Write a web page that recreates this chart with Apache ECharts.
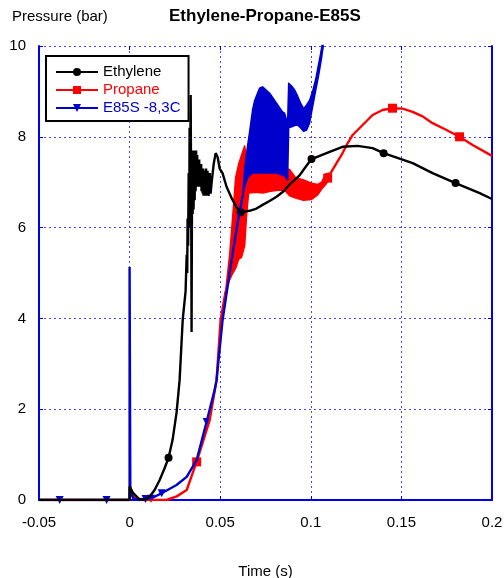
<!DOCTYPE html>
<html>
<head>
<meta charset="utf-8">
<script src="https://cdn.jsdelivr.net/npm/echarts@6/dist/echarts.min.js"></script>
<style>
html,body{margin:0;padding:0;background:#fff}
#chart{width:504px;height:578px}
</style>
</head>
<body>
<div id="chart"></div>
<script>
// Ethylene pressure trace (time in s, pressure in bar)
const ethTime = [-0.05,0,0,0.002,0.005,0.0083,0.011,0.0138,0.0166,0.0193,0.0215,0.0237,0.0259,0.0276,0.0293,0.0309,
  0.0315,0.0318,0.0320,0.0323,0.0326,0.0329,0.0331,0.0334,0.0337,0.0340,0.0342,0.0345,0.0348,0.0351,0.0353,0.0356,
  0.0359,0.0362,0.0364,0.0367,0.0370,0.0373,0.0375,0.0378,0.0381,0.0384,0.0386,0.0389,0.0392,0.0395,0.0397,0.0400,
  0.0403,0.0406,0.0408,0.0411,0.0414,0.0417,0.0419,0.0422,0.0425,0.0430,0.0436,0.0442,0.0447,0.0453,0.0464,0.0475,
  0.0486,0.0497,0.0513,0.0535,0.0563,0.0590,0.0613,0.0662,0.0700,0.0734,0.0770,0.0811,0.0850,0.0883,0.0938,0.0970,
  0.1004,0.1104,0.1175,0.1258,0.1341,0.1402,0.1562,0.1672,0.1799,0.1932,0.2];
const ethPres = [0,0,0.3,0.15,0.03,0,0.07,0.22,0.44,0.7,0.93,1.32,1.92,2.64,3.96,4.6,
  5.4,5.0,6.2,5.6,7.2,6.0,8.2,6.6,8.92,6.4,3.7,7.7,6.3,7.6,6.4,7.7,
  6.6,7.6,6.8,7.7,6.9,7.6,7.0,7.5,6.9,7.5,7.0,7.4,6.9,7.4,6.8,7.3,
  6.75,7.3,6.7,7.25,6.7,7.2,6.75,7.3,6.7,7.25,6.7,7.2,6.75,7.0,7.4,7.64,
  7.55,7.3,7.2,6.9,6.65,6.45,6.34,6.37,6.42,6.5,6.58,6.68,6.8,6.95,7.15,7.33,
  7.51,7.67,7.78,7.8,7.75,7.64,7.42,7.2,6.98,6.76,6.63];
const ethMarkT = [0.0215,0.0613,0.1004,0.1402,0.1799];
const ethMarkP = [0.93,6.34,7.51,7.64,6.98];

// Propane: rise, oscillating band, decay
const proRiseT = [-0.05,0,0.0003,0.002,0.004,0.0204,0.026,0.0315,0.037,0.0442,0.048,0.0502,0.0530];
const proRiseP = [0,0,0.22,0.1,0,0,0.08,0.22,0.84,1.76,2.64,3.96,4.6];
const proBandT = [0.0530,0.0552,0.0570,0.0585,0.0602,0.0618,0.0635,0.0646,0.0657,0.0700,0.0734,0.0778,0.0828,0.0861,0.0883,0.0916,0.0960,0.1004,0.1038,0.1060,0.1082,0.1099];
const proBandLo = [4.6,4.85,5.0,5.1,5.3,5.35,5.6,6.3,6.76,6.78,6.76,6.8,6.83,6.8,6.7,6.65,6.6,6.62,6.72,6.85,6.95,7.05];
const proBandHi = [4.6,5.4,6.3,7.1,7.4,7.6,7.8,7.5,7.25,7.25,7.22,7.2,7.25,7.3,7.28,7.1,7.05,6.98,6.95,7.0,7.18,7.2];
const proTailT = [0.1093,0.1142,0.1170,0.1198,0.1231,0.1286,0.1341,0.1396,0.1451,0.1507,0.1562,0.1617,0.1672,0.1749,0.1821,0.1893,0.2];
const proTailP = [7.09,7.42,7.6,7.82,8.04,8.26,8.48,8.59,8.63,8.62,8.55,8.45,8.3,8.15,8.0,7.82,7.58];
const proMarkT = [0.037,0.1093,0.1451,0.1821];
const proMarkP = [0.84,7.09,8.63,8.0];

// E85S -8,3C
const e85RiseT = [-0.05,0,0,0.0004,0.002,0.005,0.0105,0.0127,0.0177,0.0259,0.0315,0.037,0.0425,0.0469,0.048,0.0513,0.0563,0.0596,0.0624];
const e85RiseP = [0,0,5.13,0.2,0.03,0,0.03,0.05,0.15,0.33,0.51,0.88,1.72,2.42,2.64,3.96,5.29,6.1,6.7];
const e85BandT = [0.0624,0.0635,0.0651,0.0662,0.0679,0.0690,0.0717,0.0734,0.0773,0.0811,0.0844,0.0855,0.0872,0.0878,0.0894,0.0911,0.0927,0.0943,0.0960,0.0977,0.0993,0.1010,0.1026,0.1043,0.1060,0.1068];
const e85BandLo = [6.7,6.9,7.1,7.15,7.2,7.2,7.2,7.2,7.2,7.2,7.16,7.14,7.05,8.2,8.22,8.25,8.26,8.2,8.12,8.15,8.3,8.66,9.0,9.35,9.75,10];
const e85BandHi = [6.7,7.3,7.8,8.1,8.6,8.8,9.07,9.1,8.96,8.74,8.55,8.52,8.3,9.18,9.12,9.03,8.9,8.75,8.62,8.7,8.8,9.0,9.25,9.6,9.95,10];
const e85TailT = [0.1060,0.1075];
const e85TailP = [9.85,10.4];
const e85MarkT = [-0.0386,-0.0127,0.0088,0.0118,0.0177,0.0425];
const e85MarkP = [0,0,0.02,0.03,0.15,1.72];

// Axis ticks
const timeTicks = [-0.05,0,0.05,0.1,0.15,0.2];
const presTicks = [0,2,4,6,8,10];

const FONT = 'Liberation Sans, Arial, sans-serif';
const BLACK = '#000000', RED = '#ff0000', BLUE = '#0000cc', FRAME = '#0000ee', GRID = '#4646ff';

const zip = (a, b) => a.map((v, i) => [v, b[i]]);
const withGap = (a, b) => a.concat([['-', '-']], b);

function bandSeries(T, lo, hi, color) {
  const data = T.map((t, i) => [t, lo[i], hi[i]]);
  return {
    type: 'custom', coordinateSystem: 'cartesian2d', silent: true,
    encode: { x: 0, y: [1, 2] },
    data,
    renderItem(params, api) {
      if (params.dataIndex !== 0) return null;
      const pts = [];
      for (let i = 0; i < data.length; i++) pts.push(api.coord([data[i][0], data[i][2]]));
      for (let i = data.length - 1; i >= 0; i--) pts.push(api.coord([data[i][0], data[i][1]]));
      return { type: 'polygon', shape: { points: pts },
        style: { fill: color, stroke: color, lineWidth: 1.5, lineJoin: 'round' } };
    }
  };
}

function lineSeries(name, data, color, symbol, rotate) {
  return {
    type: 'line', name, data, showSymbol: false, symbol, symbolSize: 8, symbolRotate: rotate || 0,
    connectNulls: false,
    lineStyle: { color, width: 2.4, join: 'bevel' }, itemStyle: { color }
  };
}

function markSeries(name, data, color, symbol, size, rotate) {
  return { type: 'scatter', name, data, symbol, symbolSize: size, symbolRotate: rotate || 0,
    itemStyle: { color, opacity: 1 }, silent: true };
}

const fmtTime = v => String(+v.toFixed(2));

const chart = echarts.init(document.getElementById('chart'), null, { renderer: 'canvas' });
chart.setOption({
  animation: false,
  backgroundColor: '#ffffff',
  title: [
    { text: 'Ethylene-Propane-E85S', left: 169, top: 8, padding: 0,
      textStyle: { fontFamily: FONT, fontSize: 17, fontWeight: 'bold', color: BLACK } },
    { text: 'Pressure (bar)', left: 12, top: 9, padding: 0,
      textStyle: { fontFamily: FONT, fontSize: 15, fontWeight: 'normal', color: BLACK } }
  ],
  legend: {
    orient: 'vertical', left: 46, top: 56, padding: [8, 8, 5, 9],
    itemWidth: 42, itemHeight: 10, itemGap: 2,
    backgroundColor: '#ffffff', borderColor: BLACK, borderWidth: 2, borderRadius: 0,
    textStyle: { fontFamily: FONT, fontSize: 15, lineHeight: 16 },
    data: [
      { name: 'Ethylene', textStyle: { color: BLACK } },
      { name: 'Propane', textStyle: { color: RED } },
      { name: 'E85S -8,3C', textStyle: { color: BLUE } }
    ]
  },
  grid: { left: 39, right: 12, top: 46, bottom: 78, show: false, containLabel: false, outerBoundsMode: 'none' },
  xAxis: [
    { type: 'value', min: timeTicks[0], max: timeTicks[timeTicks.length - 1], interval: 0.05, position: 'bottom',
      axisLine: { show: true, onZero: false, lineStyle: { color: FRAME, width: 2 } },
      axisTick: { show: true, inside: true, length: 4, lineStyle: { color: FRAME } },
      axisLabel: { color: BLACK, fontFamily: FONT, fontSize: 15, margin: 15, formatter: fmtTime },
      splitLine: { show: true, lineStyle: { color: GRID, width: 1, type: [2, 3] } },
      name: 'Time (s)', nameLocation: 'middle', nameGap: 64,
      nameTextStyle: { color: BLACK, fontFamily: FONT, fontSize: 15 } },
    { type: 'value', min: timeTicks[0], max: timeTicks[timeTicks.length - 1], interval: 0.05, position: 'top',
      axisLine: { show: false, onZero: false },
      axisTick: { show: true, inside: true, length: 4, lineStyle: { color: FRAME } },
      axisLabel: { show: false }, splitLine: { show: false } }
  ],
  yAxis: [
    { type: 'value', min: presTicks[0], max: presTicks[presTicks.length - 1], interval: 2, position: 'left',
      axisLine: { show: true, onZero: false, lineStyle: { color: FRAME, width: 2 } },
      axisTick: { show: true, inside: true, length: 4, lineStyle: { color: FRAME } },
      axisLabel: { color: BLACK, fontFamily: FONT, fontSize: 15, margin: 13 },
      splitLine: { show: true, lineStyle: { color: GRID, width: 1, type: [2, 3] } } },
    { type: 'value', min: presTicks[0], max: presTicks[presTicks.length - 1], interval: 2, position: 'right',
      axisLine: { show: true, onZero: false, lineStyle: { color: FRAME, width: 2 } },
      axisTick: { show: true, inside: true, length: 4, lineStyle: { color: FRAME } },
      axisLabel: { show: false }, splitLine: { show: false } }
  ],
  series: [
    bandSeries(proBandT, proBandLo, proBandHi, RED),
    lineSeries('Propane', withGap(zip(proRiseT, proRiseP), zip(proTailT, proTailP)), RED, 'rect'),
    markSeries('Propane points', zip(proMarkT, proMarkP), RED, 'rect', 9),
    bandSeries(e85BandT, e85BandLo, e85BandHi, BLUE),
    lineSeries('E85S -8,3C', withGap(zip(e85RiseT, e85RiseP), zip(e85TailT, e85TailP)), BLUE, 'triangle', 180),
    markSeries('E85S points', zip(e85MarkT, e85MarkP), BLUE, 'triangle', 8, 180),
    lineSeries('Ethylene', zip(ethTime, ethPres), BLACK, 'circle'),
    markSeries('Ethylene points', zip(ethMarkT, ethMarkP), BLACK, 'circle', 8)
  ]
});
</script>
</body>
</html>
